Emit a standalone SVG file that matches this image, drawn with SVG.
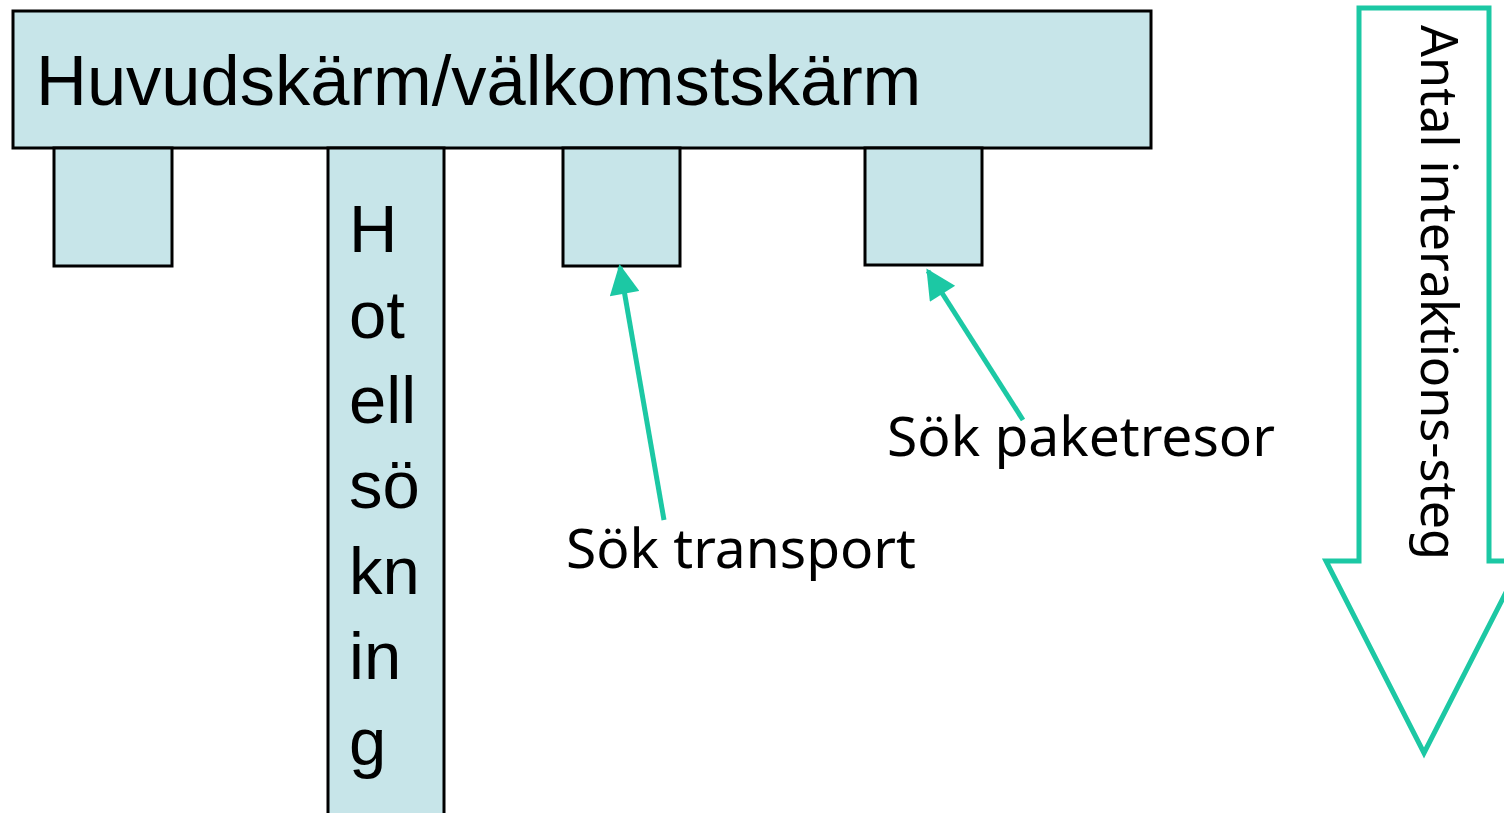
<svg xmlns="http://www.w3.org/2000/svg" width="1504" height="813" viewBox="0 0 1504 813">
  <style>
    .box { fill: #c7e5e9; stroke: #000; stroke-width: 3; }
    .sans { font-family: "Liberation Sans", Arial, sans-serif; fill: #000; }
    .label { font-family: "Noto Sans", "Open Sans", sans-serif; fill: #000; }
    .conn { stroke: #1cc8a4; stroke-width: 5; fill: none; }
  </style>
  <defs>
    <marker id="head" viewBox="0 0 10 10" refX="9" refY="5" markerWidth="6.5" markerHeight="6" orient="auto" markerUnits="strokeWidth">
      <path d="M0,0 L10,5 L0,10 Z" fill="#1cc8a4"/>
    </marker>
  </defs>

  <g id="main">
    <rect class="box" x="13" y="11" width="1138" height="137"/>
    <text class="sans" x="36" y="105" font-size="70.5">Huvudskärm/välkomstskärm</text>
  </g>

  <g id="box1">
    <rect class="box" x="54" y="148" width="118" height="118"/>
  </g>

  <g id="hotell">
    <rect class="box" x="328" y="148" width="116" height="680"/>
    <text class="sans" font-size="67">
      <tspan x="349" y="252">H</tspan>
      <tspan x="349" y="338">ot</tspan>
      <tspan x="349" y="423">ell</tspan>
      <tspan x="349" y="508">sö</tspan>
      <tspan x="349" y="594">kn</tspan>
      <tspan x="349" y="679">in</tspan>
      <tspan x="349" y="765">g</tspan>
    </text>
  </g>

  <g id="transport">
    <rect class="box" x="563" y="148" width="117" height="118"/>
  </g>

  <g id="paket">
    <rect class="box" x="865" y="148" width="117" height="117"/>
  </g>

  <g id="connectors">
    <line class="conn" x1="664" y1="520" x2="620" y2="267" marker-end="url(#head)"/>
    <line class="conn" x1="1023" y1="420" x2="928" y2="271" marker-end="url(#head)"/>
  </g>

  <g id="labels">
    <text class="label" x="566" y="568" font-size="54" textLength="350" lengthAdjust="spacingAndGlyphs">Sök transport</text>
    <text class="label" x="887" y="456" font-size="54" textLength="388" lengthAdjust="spacingAndGlyphs">Sök paketresor</text>
  </g>

  <g id="steps">
    <path d="M1359,8 L1489,8 L1489,561 L1522,561 L1424,753 L1326,561 L1359,561 Z" fill="none" stroke="#1cc8a4" stroke-width="5" stroke-linejoin="miter"/>
    <text class="label" transform="translate(1421,25) rotate(90)" font-size="51" textLength="535" lengthAdjust="spacingAndGlyphs">Antal interaktions-steg</text>
  </g>
</svg>
